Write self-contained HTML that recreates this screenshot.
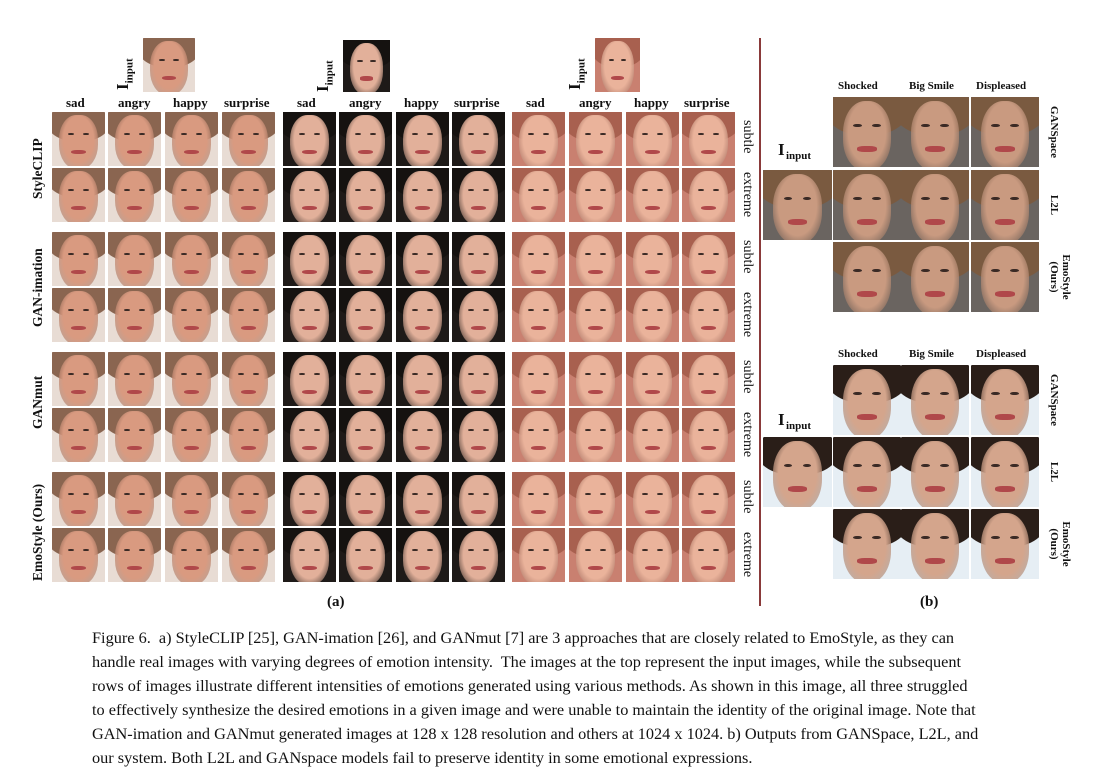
<!DOCTYPE html>
<html><head><meta charset="utf-8"><style>
body{margin:0;width:1097px;height:778px;background:#fff;position:relative;overflow:hidden;font-family:"Liberation Serif",serif;color:#111}
.a{position:absolute}
.lbl{position:absolute;font-weight:bold;font-size:13px;white-space:nowrap}
.cap{position:absolute;left:92px;font-size:16.3px;white-space:nowrap}
.cell{position:absolute;overflow:hidden}
sub{font-size:11px}
</style></head><body>
<div id="root"></div>
<div class="a" style="left:759px;top:38px;width:2px;height:568px;background:#8a3a3a"></div>
<div class="lbl" style="left:327px;top:594px;font-size:15px">(a)</div>
<div class="lbl" style="left:920px;top:594px;font-size:15px">(b)</div>
<div>
<div class="cap" style="top:628px">Figure 6.&nbsp; a) StyleCLIP [25], GAN-imation [26], and GANmut [7] are 3 approaches that are closely related to EmoStyle, as they can</div>
<div class="cap" style="top:652px">handle real images with varying degrees of emotion intensity.&nbsp; The images at the top represent the input images, while the subsequent</div>
<div class="cap" style="top:676px">rows of images illustrate different intensities of emotions generated using various methods. As shown in this image, all three struggled</div>
<div class="cap" style="top:700px">to effectively synthesize the desired emotions in a given image and were unable to maintain the identity of the original image. Note that</div>
<div class="cap" style="top:724px">GAN-imation and GANmut generated images at 128 x 128 resolution and others at 1024 x 1024. b) Outputs from GANSpace, L2L, and</div>
<div class="cap" style="top:748px">our system. Both L2L and GANspace models fail to preserve identity in some emotional expressions.</div>
</div>
<script>
const root=document.getElementById('root');
function face(x,y,w,h,bg,skin,hair,name){
  const d=document.createElement('div');
  d.className='cell';
  
  
  d.style.cssText+=`left:${x}px;top:${y}px;width:${w}px;height:${h}px;background:${bg}`;
  d.innerHTML=`<div style="position:absolute;left:-10%;top:-15%;width:120%;height:70%;border-radius:50%;background:${hair}"></div><div style="position:absolute;left:14%;top:6%;width:72%;height:100%;border-radius:45%;background:radial-gradient(ellipse at 50% 45%,${skin},${skin} 55%,rgba(0,0,0,0.25))"></div><div style="position:absolute;left:30%;top:38%;width:12%;height:5%;background:#3a2a25;border-radius:50%"></div><div style="position:absolute;left:58%;top:38%;width:12%;height:5%;background:#3a2a25;border-radius:50%"></div><div style="position:absolute;left:36%;top:70%;width:28%;height:8%;background:#b0484a;border-radius:40%"></div>`;
  root.appendChild(d);
}
function label(x,y,t,name,extra,html){
  const d=document.createElement('div');d.className='lbl';
  
  
  d.style.left=x+'px';d.style.top=y+'px';
  if(html)d.innerHTML=t;else d.textContent=t;
  if(extra)d.style.cssText+=extra;root.appendChild(d);
}
const groups=[{x:[52,108,165,222],bg:'#e8dcd4',skin:'#d99a80',hair:'#8a6550'},
 {x:[283,339,396,452],bg:'#1e1a18',skin:'#e2b09a',hair:'#151210'},
 {x:[512,569,626,682],bg:'#c98070',skin:'#eab39b',hair:'#a8604f'}];
const emotions=['sad','angry','happy','surprise'];
const hdrOff=[14,10,8,2];
const rowsY=[112,168,232,288,352,408,472,528];
const methods=['StyleCLIP','GAN-imation','GANmut','EmoStyle (Ours)'];
const inputs=[[143,38,52,54],[343,40,47,52],[595,38,45,54]];
groups.forEach((g,gi)=>{
  const [ix,iy,iw,ih]=inputs[gi];
  face(ix,iy,iw,ih,g.bg,g.skin,g.hair,'input-image-'+(gi+1));
  label(ix-30,iy+52,'I<sub>input</sub>','input-label-'+(gi+1),'transform:rotate(-90deg);transform-origin:left top;font-size:17px',true);
  emotions.forEach((e,ei)=>{
    label(g.x[ei]+hdrOff[ei],95,e,'col-header-'+e,'font-size:13px');
    rowsY.forEach((y,ri)=>face(g.x[ei],y,53,54,g.bg,g.skin,g.hair,'face-'+methods[ri>>1].toLowerCase().replace(/[^a-z]+/g,'-')+'-'+e));
  });
});
methods.forEach((m,mi)=>{
  const cy=rowsY[mi*2]+55;
  label(30,cy+m.length*3.6,m,'row-label-'+mi,'transform:rotate(-90deg);transform-origin:left top;font-size:13.5px');
  label(755,rowsY[mi*2]+8,'subtle','subtle-label-'+mi,'transform:rotate(90deg);transform-origin:left top;font-weight:normal;font-size:14px');
  label(755,rowsY[mi*2+1]+4,'extreme','extreme-label-'+mi,'transform:rotate(90deg);transform-origin:left top;font-weight:normal;font-size:14px');
});
const bcols=[833,901,971], bheads=['Shocked','Big Smile','Displeased'];
const bsets=[{hy:80,rows:[97,170,242],bg:'#6a6460',skin:'#c99a80',hair:'#7a5a40',in:170,iy:140},
             {hy:348,rows:[365,437,509],bg:'#e6eef4',skin:'#d4a58c',hair:'#2a1e18',in:437,iy:410}];
const bl=['GANSpace','L2L','EmoStyle (Ours)'];
bsets.forEach((s,si)=>{
  bheads.forEach((h,hi)=>label(bcols[hi]+(hi==1?8:5),s.hy,h,'b-header-'+h.toLowerCase().replace(' ','-'),'font-size:11px'));
  s.rows.forEach((y,ri)=>{
    bcols.forEach((x,ci)=>face(x,y,68,70,s.bg,s.skin,s.hair,'b-face-'+bl[ri].toLowerCase().replace(/[^a-z]+/g,'-')+'-'+ci));
    const two=ri==2;
    label(two?1072:1060,y+5,bl[ri],'b-row-label-'+ri,'transform:rotate(90deg);transform-origin:left top;font-size:11px;width:60px;text-align:center;white-space:normal;line-height:12px');
  });
  face(763,s.in,69,70,s.bg,s.skin,s.hair,'b-input-image-'+(si+1));
  label(778,s.iy,'I','b-input-label-'+(si+1),'font-size:17px');
  label(786,s.iy+10,'input','b-input-sub-'+(si+1),'font-size:11px');
});
</script>
</body></html>
